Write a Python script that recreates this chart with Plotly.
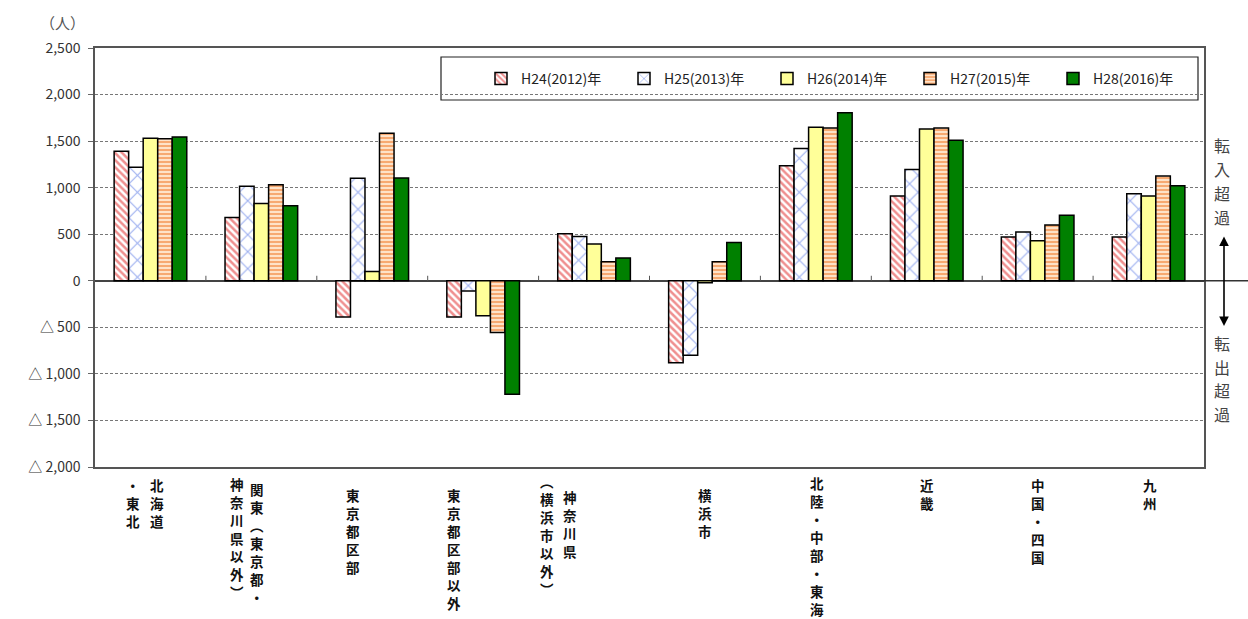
import plotly.graph_objects as go

# ---------------- data ----------------
categories = ["北海道・東北", "関東（東京都・神奈川県以外）", "東京都区部", "東京都区部以外",
              "神奈川県（横浜市以外）", "横浜市", "北陸・中部・東海", "近畿", "中国・四国", "九州"]
# vertical (tategaki) label columns, right column first
label_columns = [["北海道", "・東北"], ["関東︵東京都・", "神奈川県以外︶"], ["東京都区部"],
                 ["東京都区部以外"], ["神奈川県", "︵横浜市以外︶"], ["横浜市"],
                 ["北陸・中部・東海"], ["近畿"], ["中国・四国"], ["九州"]]
series_names = ["H24(2012)年", "H25(2013)年", "H26(2014)年", "H27(2015)年", "H28(2016)年"]
h24 = [1390, 680, -390, -390, 505, -880, 1235, 910, 470, 470]
h25 = [1220, 1015, 1100, -110, 475, -800, 1420, 1195, 525, 935]
h26 = [1530, 830, 100, -375, 395, -20, 1650, 1630, 430, 910]
h27 = [1525, 1030, 1585, -555, 205, 205, 1640, 1640, 600, 1125]
h28 = [1545, 805, 1105, -1220, 245, 410, 1805, 1510, 705, 1020]
y_tick_vals = [2500, 2000, 1500, 1000, 500, 0, -500, -1000, -1500, -2000]
y_tick_text = ["2,500", "2,000", "1,500", "1,000", "500", "0",
               "△ 500", "△ 1,000", "△ 1,500", "△ 2,000"]
unit_label = "（人）"
in_label = "転入超過"
out_label = "転出超過"

# ---------------- layout constants ----------------
W, H = 1248, 619
PL, PR, PT, PB = 95, 1204, 48, 467
Y_MIN, Y_MAX = -2000, 2500
FONT = "Noto Sans CJK JP"
LABEL_SIZE = 13.5
CELL = 18  # vertical advance per character of the category labels

def px_x(px):
    return (px - PL) / (PR - PL)

def px_y(py):
    return (PB - py) / (PB - PT)

# per-label column pixel offsets (x) and column top pixel rows
label_dx = [[7, -17], [-4, -24], [-19], [-29], [-24, -47], [0], [1], [0], [0], [1]]
label_top = [[476, 476], [480, 475], [486], [486], [488, 472], [486], [474], [476], [476], [476]]

styles = [
    dict(color="#FFFFFF", pattern=dict(shape="\\", fgcolor="#E02020", size=5, solidity=0.5)),
    dict(color="#FFFFFF", pattern=dict(shape="x", fgcolor="#3A5FE0", size=12, solidity=0.18)),
    dict(color="#FFFF99"),
    dict(color="#FFE8D2", pattern=dict(shape="-", fgcolor="#F06A10", size=4, solidity=0.55)),
    dict(color="#008000"),
]
series_values = [h24, h25, h26, h27, h28]

fig = go.Figure()
for name, vals, st in zip(series_names, series_values, styles):
    marker = dict(color=st["color"], line=dict(color="#000000", width=1.5))
    if "pattern" in st:
        marker["pattern"] = st["pattern"]
    fig.add_trace(go.Bar(x=categories, y=vals, name=name, marker=marker))

shapes = []
# legend frame
shapes.append(dict(type="rect", xref="paper", yref="paper",
                   x0=px_x(441), x1=px_x(1198), y0=px_y(100), y1=px_y(57),
                   line=dict(color="#222", width=1.2), fillcolor="white", layer="below"))
# category boundary ticks on the zero line
for i in range(len(categories) - 1):
    shapes.append(dict(type="line", xref="x", yref="y", x0=i + 0.5, x1=i + 0.5,
                       ysizemode="pixel", yanchor=0, y0=0, y1=5,
                       line=dict(color="#555", width=1)))
# zero line extension to the right
zero_paper = (0 - Y_MIN) / (Y_MAX - Y_MIN)
shapes.append(dict(type="line", xref="paper", yref="paper", x0=px_x(1186), x1=px_x(1248),
                   y0=zero_paper, y1=zero_paper, line=dict(color="#333", width=1.5)))

annotations = []
# category labels (vertical text, one character per cell)
for i, cols in enumerate(label_columns):
    for j, col in enumerate(cols):
        for k, ch in enumerate(col):
            annotations.append(dict(
                x=categories[i], xref="x", y=px_y(label_top[i][j] + CELL * (k + 0.5)),
                yref="paper", xanchor="center", yanchor="middle", xshift=label_dx[i][j],
                text=ch, showarrow=False,
                font=dict(family=FONT, size=LABEL_SIZE, color="#111", weight="bold")))
# unit label
annotations.append(dict(x=px_x(62), y=px_y(22), xref="paper", yref="paper",
                        text=unit_label, showarrow=False, xanchor="center", yanchor="middle",
                        font=dict(family=FONT, size=15, color="#555")))
# right side vertical notes
for k, ch in enumerate(in_label):
    annotations.append(dict(x=px_x(1222), y=px_y(145 + 24 * k), xref="paper", yref="paper",
                            text=ch, showarrow=False, xanchor="center", yanchor="middle",
                            font=dict(family=FONT, size=16, color="#444")))
for k, ch in enumerate(out_label):
    annotations.append(dict(x=px_x(1222), y=px_y(343 + 23.5 * k), xref="paper", yref="paper",
                            text=ch, showarrow=False, xanchor="center", yanchor="middle",
                            font=dict(family=FONT, size=16, color="#444")))
# double-headed arrow
annotations.append(dict(x=px_x(1224), y=px_y(326), xref="paper", yref="paper",
                        ax=0, ay=-91, axref="pixel", ayref="pixel", text="",
                        showarrow=True, arrowhead=2, arrowside="end+start",
                        arrowsize=1.2, arrowwidth=1.6, arrowcolor="#000"))

fig.update_layout(
    width=W, height=H,
    margin=dict(l=PL, r=W - PR, t=PT, b=H - PB, pad=0),
    paper_bgcolor="white", plot_bgcolor="white",
    barmode="group", bargap=0.345, bargroupgap=0,
    font=dict(family=FONT, size=14, color="#333"),
    showlegend=True,
    legend=dict(orientation="h", x=px_x(481), y=px_y(79), xanchor="left", yanchor="middle",
                bgcolor="rgba(0,0,0,0)", borderwidth=0, traceorder="normal",
                entrywidth=98, entrywidthmode="pixels",
                font=dict(family=FONT, size=14, color="#222")),
    xaxis=dict(type="category", range=[-0.5, len(categories) - 0.5], showticklabels=False,
               showgrid=False, showline=True, mirror=True, linecolor="#555", linewidth=1.5,
               ticks="", zeroline=False),
    yaxis=dict(range=[Y_MIN, Y_MAX], tickvals=y_tick_vals, ticktext=y_tick_text,
               showgrid=True, gridcolor="#777", griddash="3px,2px", gridwidth=1,
               zeroline=True, zerolinecolor="#444", zerolinewidth=1.5,
               showline=True, mirror=True, linecolor="#555", linewidth=1.5,
               ticks="outside", ticklen=5, tickcolor="#666", ticklabelstandoff=5,
               tickfont=dict(family=FONT, size=14, color="#333")),
    shapes=shapes, annotations=annotations,
)

fig.write_html("out.html", post_script="document.body.style.margin='0';",
               config={"displayModeBar": False})
